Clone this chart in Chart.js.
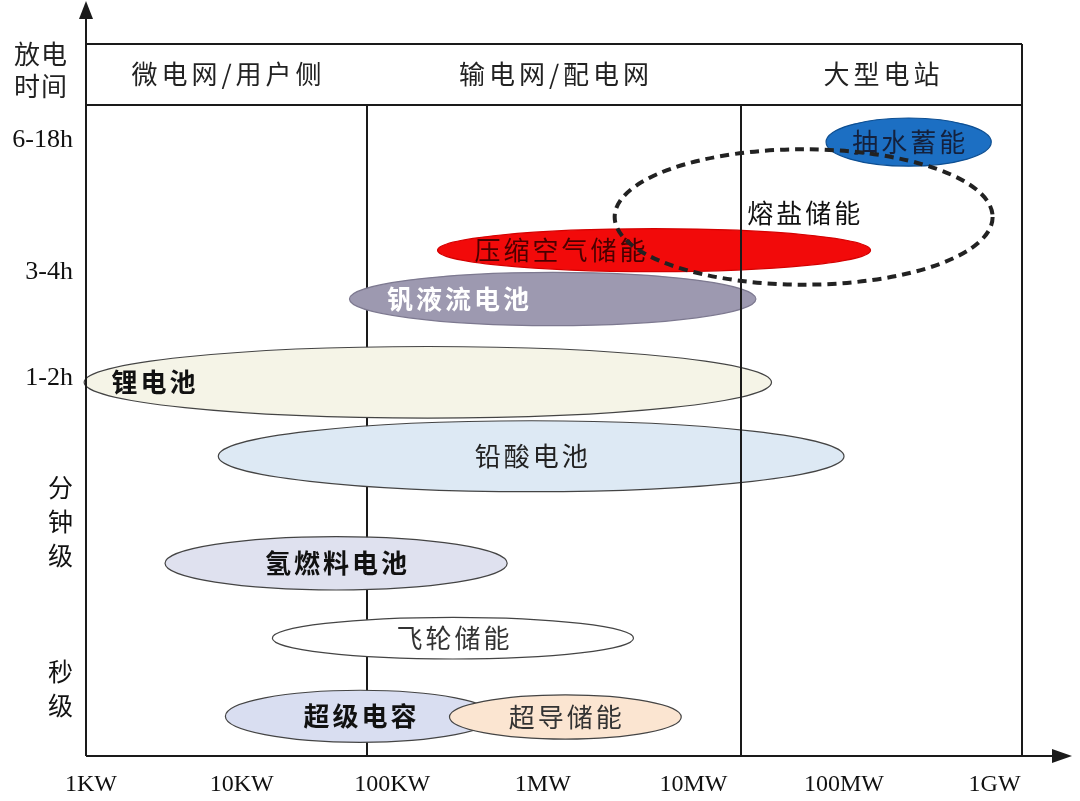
<!DOCTYPE html>
<html lang="zh">
<head>
<meta charset="utf-8">
<title>储能技术 功率等级与放电时间</title>
<script src="https://cdn.jsdelivr.net/npm/chart.js@4.4.1/dist/chart.umd.min.js"></script>
<style>
  html, body { margin: 0; padding: 0; background: #fff; }
  #wrap { width: 1080px; height: 801px; }
</style>
</head>
<body>
<div id="wrap"><canvas id="storage-chart" width="1080" height="801"></canvas></div>
<script>
// power range of each technology in kW, discharge time on a 0-10 level scale
const techNames = ['抽水蓄能', '压缩空气储能', '钒液流电池', '锂电池', '铅酸电池', '氢燃料电池', '飞轮储能', '超级电容', '超导储能', '熔盐储能'];
const powerMin = [76000, 200, 52, 0.9, 7, 3.1, 16, 7.8, 240, 3000];
const powerMax = [950000, 150000, 26000, 33000, 100000, 580, 4000, 480, 8300, 970000];
const durLow = [9.06, 7.44, 6.61, 5.19, 4.06, 2.55, 1.49, 0.21, 0.26, 7.24];
const durHigh = [9.80, 8.10, 7.43, 6.29, 5.15, 3.37, 2.13, 1.01, 0.94, 9.32];
// where the name sits when it is not in the middle of its ellipse (kW)
const labelAt = [null, 1300, 273, 2.6, null, null, null, null, null, null];

const powerTicks = [1, 10, 100, 1000, 10000, 100000, 1000000];
const powerTickLabels = ['1KW', '10KW', '100KW', '1MW', '10MW', '100MW', '1GW'];
const durTicks = [9.46, 7.43, 5.81, 3.6, 1.04];
const durTickLabels = ['6-18h', '3-4h', '1-2h', ['分', '钟', '级'], ['秒', '级']];
const sectorBounds = [68, 20700];
const sectorNames = ['微电网/用户侧', '输电网/配电网', '大型电站'];

// styles
const fillColors = ['#1c6fc3', '#f20a0a', '#9d99b0', '#f5f4e7', '#dde9f4', '#dfe1ef', '#ffffff', '#d9def1', '#fbe5d1', null];
const strokeColors = ['#0e4f92', '#d40000', '#7d7990', '#444', '#444', '#444', '#444', '#444', '#444', '#222'];
const textColors = ['#14213d', '#4a0000', '#ffffff', '#111', '#222', '#111', '#333', '#111', '#333', '#111'];
const boldLabels = [false, false, true, true, false, true, false, true, false, false];

const CJK = "'Noto Sans CJK SC', 'Noto Sans', sans-serif";
const SERIF = "'Liberation Serif', 'Noto Sans CJK SC', serif";
const LINE = '#1a1a1a';

function ellipseBox(chart, i) {
  const x = chart.scales.x, y = chart.scales.y;
  const x0 = x.getPixelForValue(powerMin[i]), x1 = x.getPixelForValue(powerMax[i]);
  const y0 = y.getPixelForValue(durHigh[i]), y1 = y.getPixelForValue(durLow[i]);
  return { cx: (x0 + x1) / 2, cy: (y0 + y1) / 2, rx: (x1 - x0) / 2, ry: (y1 - y0) / 2 };
}

function vline(ctx, px, top, bottom) {
  ctx.beginPath();
  ctx.moveTo(px, top);
  ctx.lineTo(px, bottom);
  ctx.stroke();
}

const ellipsePlugin = {
  id: 'ellipses',
  beforeDatasetsDraw(chart) {
    const ctx = chart.ctx, area = chart.chartArea, xs = chart.scales.x;
    ctx.save();
    ctx.strokeStyle = LINE;
    ctx.lineWidth = 2;
    vline(ctx, xs.getPixelForValue(sectorBounds[0]), area.top, area.bottom);

    techNames.forEach(function (name, i) {
      if (!fillColors[i]) return;
      const b = ellipseBox(chart, i);
      ctx.beginPath();
      ctx.ellipse(b.cx, b.cy, b.rx, b.ry, 0, 0, Math.PI * 2);
      ctx.fillStyle = fillColors[i];
      ctx.fill();
      ctx.lineWidth = 1.2;
      ctx.strokeStyle = strokeColors[i];
      ctx.stroke();
    });

    ctx.strokeStyle = LINE;
    ctx.lineWidth = 2;
    vline(ctx, xs.getPixelForValue(sectorBounds[1]), area.top, area.bottom);

    // names
    ctx.textAlign = 'center';
    ctx.textBaseline = 'middle';
    ctx.letterSpacing = '3px';
    techNames.forEach(function (name, i) {
      const b = ellipseBox(chart, i);
      const lx = labelAt[i] ? xs.getPixelForValue(labelAt[i]) : b.cx;
      ctx.font = (boldLabels[i] ? 'bold ' : '') + '26px ' + CJK;
      ctx.fillStyle = textColors[i];
      ctx.fillText(name, lx + 1.5, fillColors[i] ? b.cy : b.cy - 4);
    });
    ctx.letterSpacing = '0px';

    // dashed outline drawn last
    techNames.forEach(function (name, i) {
      if (fillColors[i]) return;
      const b = ellipseBox(chart, i);
      ctx.beginPath();
      ctx.ellipse(b.cx, b.cy, b.rx, b.ry, 0, 0, Math.PI * 2);
      ctx.setLineDash([9, 6]);
      ctx.lineWidth = 4;
      ctx.strokeStyle = strokeColors[i];
      ctx.stroke();
      ctx.setLineDash([]);
    });
    ctx.restore();
  },
  afterDraw(chart) {
    const ctx = chart.ctx, area = chart.chartArea, xs = chart.scales.x;
    const headTop = 44;
    ctx.save();
    ctx.strokeStyle = LINE;
    ctx.fillStyle = LINE;
    ctx.lineWidth = 2;

    // header band and right border
    ctx.beginPath();
    ctx.moveTo(area.left, headTop);
    ctx.lineTo(area.right, headTop);
    ctx.moveTo(area.left, area.top);
    ctx.lineTo(area.right, area.top);
    ctx.stroke();
    vline(ctx, area.right, headTop, area.bottom);

    // axes with arrows
    ctx.beginPath();
    ctx.moveTo(area.left, area.bottom);
    ctx.lineTo(area.left, 14);
    ctx.moveTo(area.left, area.bottom);
    ctx.lineTo(1058, area.bottom);
    ctx.stroke();
    ctx.beginPath();
    ctx.moveTo(area.left, 1);
    ctx.lineTo(area.left - 7, 19);
    ctx.lineTo(area.left + 7, 19);
    ctx.closePath();
    ctx.fill();
    ctx.beginPath();
    ctx.moveTo(1072, area.bottom);
    ctx.lineTo(1052, area.bottom - 7);
    ctx.lineTo(1052, area.bottom + 7);
    ctx.closePath();
    ctx.fill();

    // sector names
    const edges = [area.left, xs.getPixelForValue(sectorBounds[0]), xs.getPixelForValue(sectorBounds[1]), area.right];
    ctx.font = '26px ' + CJK;
    ctx.fillStyle = '#222';
    ctx.textAlign = 'center';
    ctx.textBaseline = 'middle';
    ctx.letterSpacing = '4px';
    sectorNames.forEach(function (s, i) {
      ctx.fillText(s, (edges[i] + edges[i + 1]) / 2 + 2, (headTop + area.top) / 2);
    });

    // axis title
    ctx.letterSpacing = '1px';
    ctx.fillText('放电', 41, 54);
    ctx.fillText('时间', 41, 86);
    ctx.restore();
  }
};

const ctx = document.getElementById('storage-chart').getContext('2d');
new Chart(ctx, {
  type: 'scatter',
  data: {
    datasets: [{
      label: '储能技术',
      data: techNames.map(function (n, i) {
        return { x: Math.sqrt(powerMin[i] * powerMax[i]), y: (durLow[i] + durHigh[i]) / 2 };
      }),
      pointRadius: 0,
      pointHoverRadius: 0
    }]
  },
  options: {
    responsive: false,
    animation: false,
    layout: { padding: { top: 105, right: 58, left: 0, bottom: 0 } },
    plugins: { legend: { display: false }, tooltip: { enabled: false } },
    scales: {
      x: {
        type: 'logarithmic',
        min: 0.926,
        max: 1520000,
        grid: { display: false, drawTicks: false },
        border: { display: false },
        afterBuildTicks: function (scale) {
          scale.ticks = powerTicks.map(function (v) { return { value: v }; });
        },
        afterFit: function (scale) { scale.height = 45; },
        ticks: {
          autoSkip: false,
          maxRotation: 0,
          padding: 14,
          color: '#111',
          font: { family: SERIF, size: 24 },
          callback: function (v, i) { return powerTickLabels[i]; }
        }
      },
      y: {
        type: 'linear',
        min: 0,
        max: 10,
        grid: { display: false, drawTicks: false },
        border: { display: false },
        afterBuildTicks: function (scale) {
          scale.ticks = durTicks.map(function (v) { return { value: v }; });
        },
        afterFit: function (scale) { scale.width = 86; },
        ticks: {
          autoSkip: false,
          padding: 13,
          color: '#111',
          font: function (c) {
            const lbl = durTickLabels[c.index];
            return Array.isArray(lbl)
              ? { family: CJK, size: 25, lineHeight: 1.35 }
              : { family: SERIF, size: 26 };
          },
          callback: function (v, i) { return durTickLabels[i]; }
        }
      }
    }
  },
  plugins: [ellipsePlugin]
});
</script>
</body>
</html>
